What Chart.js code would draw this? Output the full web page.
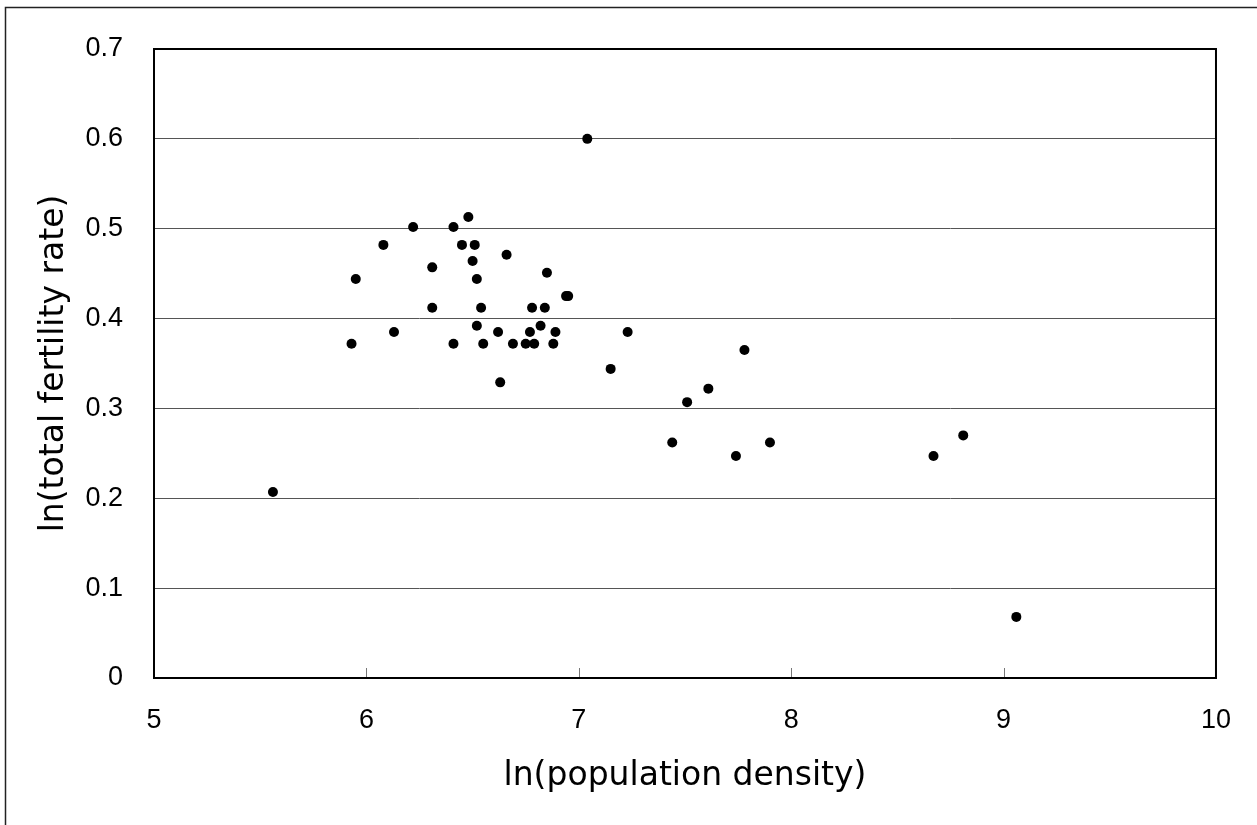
<!DOCTYPE html>
<html>
<head>
<meta charset="utf-8">
<script src="https://cdn.jsdelivr.net/npm/chart.js@4"></script>
<style>
    html, body { margin: 0; padding: 0; background: #fff; }
    #wrap { width: 1257px; height: 825px; }
</style>
</head>
<body>
<div id="wrap"><canvas id="scatterChart" width="1257" height="825"></canvas></div>
<script>
// ln(population density) per point
const densityLn = [
    6.48, 6.22, 6.41, 6.08, 6.45, 6.51, 6.66, 6.50, 6.31, 5.95,
    6.52, 6.85, 6.94, 6.95, 6.31, 6.54, 6.78, 6.84, 6.52, 6.82,
    6.13, 6.62, 6.77, 6.89, 7.23, 5.93, 6.41, 6.55, 6.69, 6.75,
    6.79, 6.88, 7.15, 6.63, 7.04, 5.56, 7.78, 7.61, 7.51, 7.44,
    7.90, 7.74, 8.81, 8.67, 9.06
];
// ln(total fertility rate) per point
const fertilityLn = [
    0.513, 0.502, 0.502, 0.482, 0.482, 0.482, 0.471, 0.464, 0.457, 0.444,
    0.444, 0.451, 0.425, 0.425, 0.412, 0.412, 0.412, 0.412, 0.392, 0.392,
    0.385, 0.385, 0.385, 0.385, 0.385, 0.372, 0.372, 0.372, 0.372, 0.372,
    0.372, 0.372, 0.344, 0.329, 0.600, 0.207, 0.365, 0.322, 0.307, 0.262,
    0.262, 0.247, 0.270, 0.247, 0.068
];
const xTicks = [5, 6, 7, 8, 9, 10];
const yTicks = [0, 0.1, 0.2, 0.3, 0.4, 0.5, 0.6, 0.7];

const points = densityLn.map((x, i) => ({ x: x, y: fertilityLn[i] }));

// frame around the plot, small inner ticks on x, and the outer border
const framePlugin = {
    id: 'frame',
    afterDatasetsDraw(chart) {
        const { ctx, chartArea: a } = chart;
        const xs = chart.scales.x;
        ctx.save();
        ctx.strokeStyle = '#777';
        ctx.lineWidth = 1;
        xTicks.forEach(v => {
            const px = Math.round(xs.getPixelForValue(v)) + 0.5;
            ctx.beginPath();
            ctx.moveTo(px, a.bottom);
            ctx.lineTo(px, a.bottom - 10);
            ctx.stroke();
        });
        ctx.strokeStyle = '#000';
        ctx.lineWidth = 2;
        ctx.strokeRect(a.left, a.top, a.right - a.left, a.bottom - a.top);
        ctx.strokeStyle = '#222';
        ctx.lineWidth = 1.5;
        ctx.beginPath();
        ctx.moveTo(5.5, 825);
        ctx.lineTo(5.5, 7.5);
        ctx.lineTo(1257, 7.5);
        ctx.stroke();
        ctx.restore();
    }
};

new Chart(document.getElementById('scatterChart'), {
    type: 'scatter',
    data: {
        datasets: [{
            data: points,
            backgroundColor: '#000',
            borderWidth: 0,
            pointRadius: 5,
            pointHoverRadius: 5
        }]
    },
    options: {
        responsive: false,
        animation: false,
        devicePixelRatio: 1,
        layout: { padding: { left: 0, top: 49, right: 37, bottom: 0 } },
        plugins: { legend: { display: false }, tooltip: { enabled: false } },
        scales: {
            x: {
                type: 'linear',
                min: 5,
                max: 10,
                afterBuildTicks: scale => { scale.ticks = xTicks.map(v => ({ value: v })); },
                afterFit: scale => { scale.height = 147; },
                grid: { display: false, drawTicks: false },
                border: { display: false },
                ticks: {
                    padding: 26,
                    color: '#000',
                    font: { family: 'Liberation Sans', size: 27 }
                },
                title: {
                    display: true,
                    text: 'ln(population density)',
                    color: '#000',
                    font: { family: 'DejaVu Sans', size: 33 },
                    padding: { top: 0, bottom: 29 }
                }
            },
            y: {
                type: 'linear',
                min: 0,
                max: 0.7,
                afterBuildTicks: scale => { scale.ticks = yTicks.map(v => ({ value: v })); },
                afterFit: scale => { scale.width = 154; },
                grid: { color: '#555', lineWidth: 1, drawTicks: false },
                border: { display: false },
                ticks: {
                    padding: 31,
                    color: '#000',
                    font: { family: 'Liberation Sans', size: 27 },
                    callback: v => String(Math.round(v * 10) / 10)
                },
                title: {
                    display: true,
                    text: 'ln(total fertility rate)',
                    color: '#000',
                    font: { family: 'DejaVu Sans', size: 33 },
                    padding: { top: 35, bottom: 0 }
                }
            }
        }
    },
    plugins: [framePlugin]
});
</script>
</body>
</html>
